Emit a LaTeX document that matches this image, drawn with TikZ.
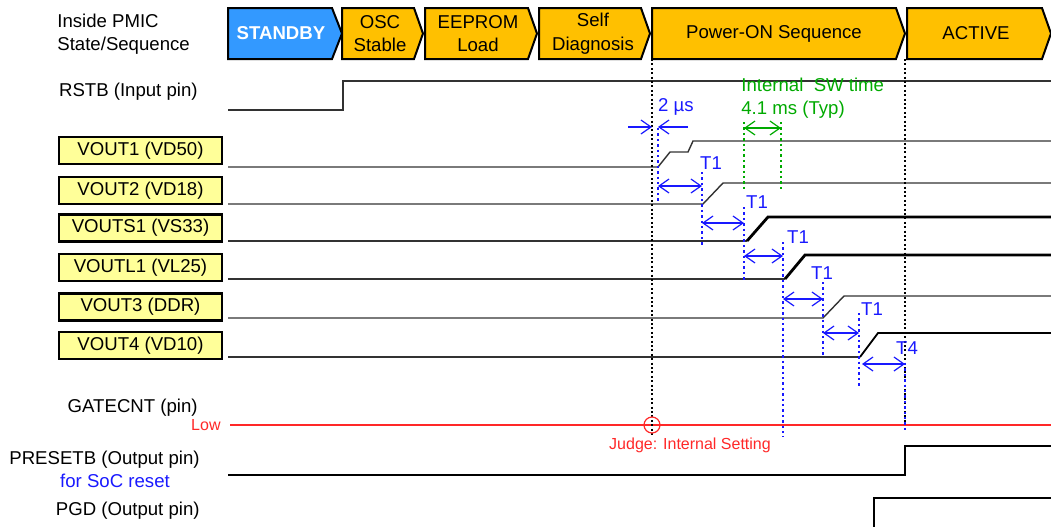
\documentclass[tikz,border=0pt]{standalone}
\usepackage{fontspec}
\setmainfont{Liberation Sans}
\usetikzlibrary{arrows.meta}
\definecolor{stateorange}{RGB}{255,192,0}
\definecolor{stateblue}{RGB}{51,153,255}
\definecolor{voutyellow}{RGB}{255,255,153}
\definecolor{noteblue}{RGB}{25,25,255}
\definecolor{notegreen}{RGB}{0,170,0}
\definecolor{notered}{RGB}{255,40,40}
\definecolor{wave}{RGB}{50,50,50}

\begin{document}
\begin{tikzpicture}[x=0.5pt, y=-0.5pt,
            font=\fontsize{9.3}{11.8}\selectfont,
            state/.style={draw=black, line width=1pt, fill=stateorange},
            statetext/.style={align=center, inner sep=0pt},
            vbox/.style={draw=black, line width=1.1pt, fill=voutyellow, minimum width=81.5pt, minimum height=13.5pt, inner sep=0pt},
            pinlabel/.style={anchor=east, inner sep=0pt},
            thinwave/.style={draw=wave, line width=0.7pt},
            thickwave/.style={draw=black, line width=1.4pt},
            markline/.style={black, line width=1.2pt, dash pattern=on 1pt off 1.2pt},
            bluemark/.style={noteblue, line width=1.3pt, dash pattern=on 1.2pt off 1.5pt},
            greenmark/.style={notegreen, line width=1.3pt, dash pattern=on 1.2pt off 1.5pt},
            barb/.tip={Straight Barb[length=5pt,width=7pt]},
            dimarrow/.style={noteblue, line width=0.6pt, barb-barb},
            notetext/.style={inner sep=0pt}
        ]
            \useasboundingbox (0,0) rectangle (1051,526);

            % states
            \draw[state, fill=stateblue] (228,8) -- (332,8) -- (342,33.5) -- (332,59) -- (228,59) -- cycle;
            \draw[state] (342,8) -- (414,8) -- (423,33.5) -- (414,59) -- (342,59) -- cycle;
            \draw[state] (425,8) -- (528,8) -- (537,33.5) -- (528,59) -- (425,59) -- cycle;
            \draw[state] (539,8) -- (641,8) -- (650,33.5) -- (641,59) -- (539,59) -- cycle;
            \draw[state] (652,8) -- (896,8) -- (905,33.5) -- (896,59) -- (652,59) -- cycle;
            \draw[state] (907,8) -- (1042,8) -- (1051,33.5) -- (1042,59) -- (907,59) -- cycle;
            \node[statetext, text=white, font=\fontsize{9.3}{11.8}\selectfont\bfseries] (standby) at (281,33.5) {STANDBY};
            \node[statetext] (osc) at (380,33.5) {OSC\\Stable};
            \node[statetext] (eeprom) at (478,33.5) {EEPROM\\Load};
            \node[statetext] (selfdiag) at (593,33.5) {Self\\Diagnosis};
            \node[statetext] (poweron) at (774,33.5) {Power-ON Sequence};
            \node[statetext] (active) at (976,33.5) {ACTIVE};

            % pin names
            \node[anchor=west, align=left, inner sep=0pt] (inside) at (57,34) {Inside PMIC\\State/Sequence};
            \node[pinlabel] (rstb) at (198,92) {RSTB (Input pin)};
            \node[vbox] (vout1) at (140.5,150.5) {VOUT1 (VD50)};
            \node[vbox] (vout2) at (140.5,190.5) {VOUT2 (VD18)};
            \node[vbox] (vouts1) at (140.5,228) {VOUTS1 (VS33)};
            \node[vbox] (voutl1) at (140.5,267.5) {VOUTL1 (VL25)};
            \node[vbox] (vout3) at (140.5,307) {VOUT3 (DDR)};
            \node[vbox] (vout4) at (140.5,345.5) {VOUT4 (VD10)};
            \node[pinlabel] (gatecnt) at (198,408) {GATECNT (pin)};
            \node[pinlabel, notered, font=\fontsize{8}{10}\selectfont] (low) at (221,425) {Low};
            \node[pinlabel] (presetb) at (200,460) {PRESETB (Output pin)};
            \node[notetext, noteblue] (socreset) at (115,481) {for SoC reset};
            \node[pinlabel] (pgd) at (200,511) {PGD (Output pin)};

            % waveforms
            \draw[thinwave] (228,110) -- (343,110) -- (343,81) -- (1051,81);
            \draw[thinwave] (228,167) -- (658,167) -- (670,152) -- (688,152) -- (693,141) -- (1051,141);
            \draw[thinwave] (228,204) -- (703,204) -- (723,183) -- (1051,183);
            \draw[thinwave] (228,241) -- (747,241);
            \draw[thickwave] (747,241) -- (768,217) -- (1051,217);
            \draw[thinwave] (228,279) -- (785,279);
            \draw[thickwave] (785,279) -- (805,255) -- (1051,255);
            \draw[thinwave] (228,318) -- (823,318) -- (844,296) -- (1051,296);
            \draw[thinwave] (228,357) -- (860,357);
            \draw[thinwave, black, line width=0.9pt] (860,357) -- (878,333) -- (1051,333);
            \draw[notered, line width=0.6pt] (230,425) -- (1051,425);
            \draw[thickwave] (228,475) -- (905,475) -- (905,446) -- (1051,446);
            \draw[thickwave] (874,527) -- (874,498) -- (1051,498);

            % timing marks
            \draw[markline] (652,59) -- (652,435);
            \draw[markline] (905,59) -- (905,425);
            \foreach \x/\ya/\yb in {658/128/202, 702/172/247, 744/207/280, 783/242/437, 823/282/357, 859/313/387, 905/363/432}
                \draw[bluemark] (\x,\ya) -- (\x,\yb);
            \draw[greenmark] (744,122) -- (744,190);
            \draw[greenmark] (781,122) -- (781,190);

            % dimensions
            \coordinate (twoa) at (628,127);
            \coordinate (twob) at (688,127);
            \draw[noteblue, line width=0.6pt, -barb] (twoa) -- (652,127);
            \draw[noteblue, line width=0.6pt, -barb] (twob) -- (658,127);
            \node[notetext, noteblue] (twous) at (676,107) {2 µs};
            \foreach \xa/\xb/\y/\lx/\ly/\t [count=\i] in {658/702/186/711/163/T1, 702/744/223/757/202/T1, 744/783/256/798/237/T1, 783/823/299/822/273/T1, 823/859/333/872/309/T1, 862/905/364/907/348/T4} {
                \coordinate (d\i a) at (\xa,\y);
                \coordinate (d\i b) at (\xb,\y);
                \draw[dimarrow] (d\i a) -- (d\i b);
                \node[notetext, noteblue] (dl\i) at (\lx,\ly) {\t};
            }
            \coordinate (swa) at (744,128);
            \coordinate (swb) at (781,128);
            \draw[dimarrow, notegreen] (swa) -- (swb);
            \node[anchor=west, align=left, inner sep=0pt, notegreen] (swtime) at (741,98) {Internal\ \ SW time\\4.1 ms (Typ)};

            % judge point
            \node[circle, draw=notered, line width=0.6pt, minimum size=8pt, inner sep=0pt] (judge) at (652,425) {};
            \node[notetext, notered, font=\fontsize{8}{10}\selectfont] (judgetext) at (690,445) {Judge: Internal Setting};

        \end{tikzpicture}
\end{document}
